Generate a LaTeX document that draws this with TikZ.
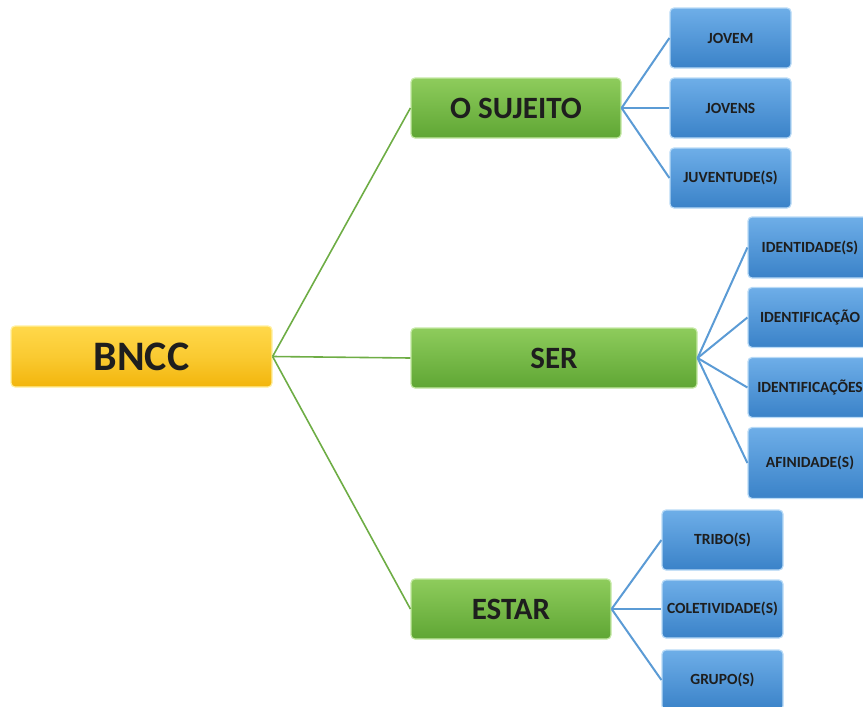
\documentclass[tikz,border=0pt]{standalone}
\usepackage{fontspec}
\setmainfont{Carlito}
\definecolor{ytop}{HTML}{FFD84A}
\definecolor{ybot}{HTML}{F2B50C}
\definecolor{yedge}{HTML}{FFF0A0}
\definecolor{gtop}{HTML}{8ECC5C}
\definecolor{gbot}{HTML}{5FA634}
\definecolor{gedge}{HTML}{C4E8A4}
\definecolor{btop}{HTML}{6EAEE8}
\definecolor{bbot}{HTML}{3A82C8}
\definecolor{bedge}{HTML}{B8DAF6}
\definecolor{gline}{HTML}{6EAD45}
\definecolor{bline}{HTML}{5B9BD5}
\definecolor{txt}{HTML}{1E1E1E}
\tikzset{
  basebox/.style={rounded corners=4pt, line width=1.2pt, text=txt, font=\bfseries, align=center, inner sep=0pt},
  ybox/.style={basebox, draw=yedge, top color=ytop, bottom color=ybot, middle color=ytop!60!ybot},
  gbox/.style={basebox, draw=gedge, top color=gtop, bottom color=gbot, font=\bfseries\fontsize{31}{34}\selectfont},
  bbox/.style={basebox, draw=bedge, top color=btop, bottom color=bbot, minimum height=60pt, font=\bfseries\fontsize{15.5}{18}\selectfont},
  glink/.style={draw=gline, line width=1.6pt},
  blink/.style={draw=bline, line width=2pt},
}
\begin{document}
\begin{tikzpicture}[x=1pt,y=-1pt]
\useasboundingbox (0,0) rectangle (863,707);
\clip (0,0) rectangle (863,707);
% main nodes
\node[ybox, minimum width=261pt, minimum height=61pt, font=\bfseries\fontsize{42}{46}\selectfont] (root) at (141.5,356.5) {BNCC};
\node[gbox, minimum width=210pt, minimum height=60pt] (sujeito) at (516,108) {O SUJEITO};
\node[gbox, minimum width=286pt, minimum height=60pt] (ser) at (554,358) {SER};
\node[gbox, minimum width=200pt, minimum height=60pt] (estar) at (511,609) {ESTAR};
% leaves
\node[bbox, minimum width=121pt] (jovem) at (730.5,38) {JOVEM};
\node[bbox, minimum width=121pt] (jovens) at (730.5,108) {JOVENS};
\node[bbox, minimum width=121pt] (juventude) at (730.5,178) {JUVENTUDE(S)};
\node[bbox, minimum width=124pt, minimum height=61pt] (identidade) at (810,247.5) {IDENTIDADE(S)};
\node[bbox, minimum width=124pt] (identificacao) at (810,317.5) {IDENTIFICAÇÃO};
\node[bbox, minimum width=124pt] (identificacoes) at (810,387.5) {IDENTIFICAÇÕES};
\node[bbox, minimum width=124pt, minimum height=71pt] (afinidade) at (810,463) {AFINIDADE(S)};
\node[bbox, minimum width=121pt] (tribo) at (722.5,540) {TRIBO(S)};
\node[bbox, minimum width=121pt, minimum height=58pt] (coletividade) at (722.5,609) {COLETIVIDADE(S)};
\node[bbox, minimum width=121pt] (grupo) at (722.5,680) {GRUPO(S)};
% connectors
\draw[glink] (root.east) -- (sujeito.west);
\draw[glink] (root.east) -- (ser.west);
\draw[glink] (root.east) -- (estar.west);
\draw[blink] (sujeito.east) -- (jovem.west);
\draw[blink] (sujeito.east) -- (jovens.west);
\draw[blink] (sujeito.east) -- (juventude.west);
\draw[blink] (ser.east) -- (identidade.west);
\draw[blink] (ser.east) -- (identificacao.west);
\draw[blink] (ser.east) -- (identificacoes.west);
\draw[blink] (ser.east) -- (afinidade.west);
\draw[blink] (estar.east) -- (tribo.west);
\draw[blink] (estar.east) -- (coletividade.west);
\draw[blink] (estar.east) -- (grupo.west);
\end{tikzpicture}
\end{document}
